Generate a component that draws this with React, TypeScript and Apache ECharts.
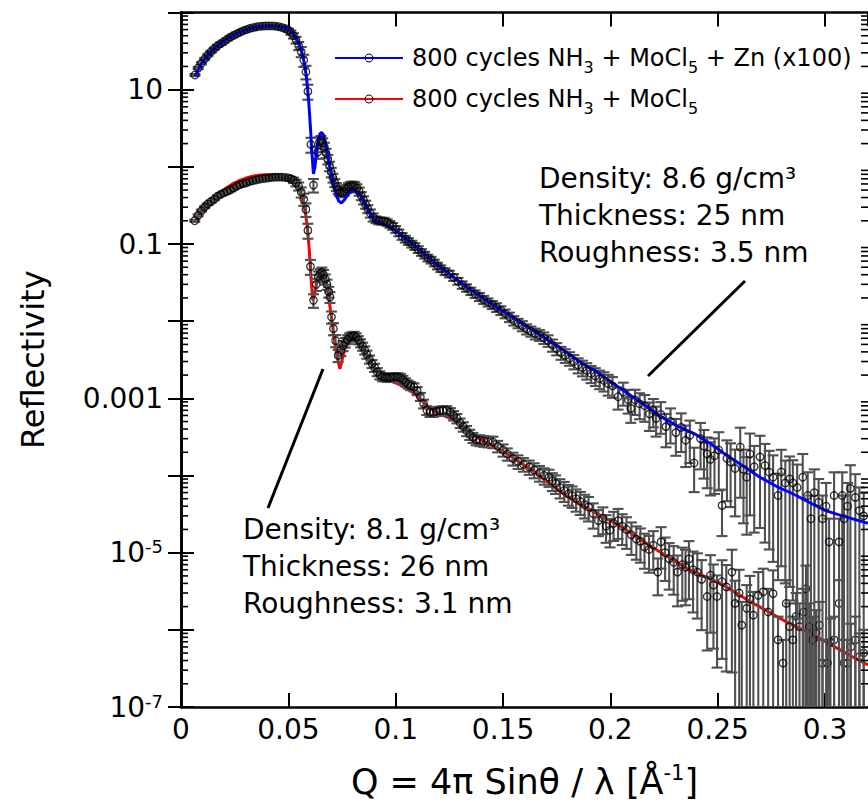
import React, { useEffect, useRef } from "react";
import * as echarts from "echarts";

// ---------- data ----------
// measured points of the Zn sample (already x100): [Q, R, relative error]
const topMeasured: [number, number, number][] = [
  [0.0065, 15.5, 0.03], [0.008, 19.0, 0.03], [0.0095, 22.0, 0.03], [0.011, 25.0, 0.03], [0.0125, 28.0, 0.03],
  [0.014, 31.0, 0.03], [0.0155, 34.0, 0.03], [0.017, 37.0, 0.03], [0.0185, 39.5, 0.03], [0.02, 42.0, 0.03],
  [0.0215, 45.0, 0.03], [0.023, 48.0, 0.03], [0.0245, 50.5, 0.03], [0.026, 53.0, 0.03], [0.0275, 55.5, 0.03],
  [0.029, 58.0, 0.03], [0.0305, 60.0, 0.03], [0.032, 62.0, 0.03], [0.0335, 63.5, 0.03], [0.035, 65.0, 0.03],
  [0.0365, 66.0, 0.03], [0.038, 66.5, 0.03], [0.0395, 67.0, 0.03], [0.041, 67.0, 0.03], [0.0425, 67.0, 0.03],
  [0.044, 66.5, 0.03], [0.0455, 65.5, 0.03], [0.047, 64.0, 0.03], [0.0485, 62.0, 0.04], [0.05, 59.0, 0.05],
  [0.0512, 55.0, 0.06], [0.0524, 50.0, 0.08], [0.0536, 44.0, 0.1], [0.0548, 37.0, 0.12], [0.056, 31.0, 0.15],
  [0.0572, 24.0, 0.18], [0.0582, 17.0, 0.2], [0.0591, 9.5, 0.22], [0.0605, 1.95, 0.22], [0.0617, 0.58, 0.2],
  [0.0637, 1.55, 0.18], [0.0645, 2.1, 0.15], [0.0652, 2.2, 0.14], [0.066, 2.05, 0.14], [0.0668, 1.8, 0.14],
  [0.0676, 1.5, 0.14], [0.0684, 1.25, 0.14], [0.0692, 1.02, 0.14], [0.07, 0.85, 0.14], [0.0708, 0.72, 0.13],
  [0.0716, 0.62, 0.12], [0.0724, 0.55, 0.12], [0.0732, 0.5, 0.12], [0.074, 0.47, 0.12], [0.075, 0.46, 0.12],
  [0.076, 0.48, 0.12], [0.077, 0.52, 0.12], [0.078, 0.55, 0.12], [0.079, 0.57, 0.12], [0.08, 0.575, 0.12],
  [0.081, 0.565, 0.12], [0.082, 0.53, 0.12], [0.083, 0.48, 0.12], [0.084, 0.42, 0.12], [0.085, 0.37, 0.12],
  [0.086, 0.325, 0.12], [0.087, 0.285, 0.12], [0.0882, 0.25, 0.12], [0.0895, 0.222, 0.12], [0.0908, 0.207, 0.1],
  [0.0921, 0.2, 0.1], [0.0934, 0.199, 0.1], [0.0947, 0.198, 0.1], [0.096, 0.19, 0.1], [0.0973, 0.18, 0.1],
  [0.0986, 0.17, 0.1], [0.1, 0.155, 0.1], [0.1015, 0.14, 0.1], [0.103, 0.126, 0.1], [0.1045, 0.116, 0.1],
  [0.106, 0.108, 0.1], [0.1075, 0.1, 0.1], [0.109, 0.093, 0.1], [0.1105, 0.085, 0.1], [0.112, 0.078, 0.1],
  [0.1135, 0.072, 0.1], [0.115, 0.066, 0.1], [0.1165, 0.062, 0.1], [0.118, 0.057, 0.1], [0.1195, 0.052, 0.1],
  [0.121, 0.048, 0.1], [0.123, 0.044, 0.1], [0.125, 0.041, 0.1], [0.127, 0.037, 0.1], [0.129, 0.033, 0.1],
  [0.131, 0.0295, 0.11], [0.133, 0.027, 0.11], [0.135, 0.0245, 0.11], [0.137, 0.0225, 0.11], [0.139, 0.0207, 0.12],
  [0.141, 0.019, 0.12], [0.143, 0.0176, 0.12], [0.145, 0.0163, 0.12], [0.147, 0.0151, 0.13], [0.149, 0.0138, 0.13],
  [0.151, 0.0125, 0.13], [0.153, 0.0113, 0.14], [0.155, 0.0102, 0.14], [0.157, 0.0094, 0.14], [0.159, 0.0087, 0.15],
  [0.161, 0.0079, 0.15], [0.163, 0.0074, 0.15], [0.165, 0.0069, 0.16], [0.167, 0.0066, 0.16], [0.169, 0.0061, 0.17],
  [0.171, 0.0056, 0.17], [0.173, 0.0049, 0.18], [0.175, 0.0044, 0.18], [0.177, 0.0039, 0.19], [0.179, 0.0036, 0.2],
  [0.181, 0.0033, 0.2], [0.183, 0.003, 0.21], [0.185, 0.0027, 0.22], [0.187, 0.0025, 0.23], [0.189, 0.0023, 0.24],
  [0.191, 0.0021, 0.25], [0.193, 0.00195, 0.26], [0.195, 0.0018, 0.27], [0.197, 0.0017, 0.28], [0.199, 0.00155, 0.3],
  [0.201, 0.00145, 0.3], [0.2036, 0.00105, 0.32], [0.206, 0.0012, 0.33], [0.2083, 0.00096, 0.34], [0.2095, 0.00074, 0.35],
  [0.2115, 0.00095, 0.36], [0.2136, 0.00085, 0.37], [0.216, 0.0008, 0.38], [0.2182, 0.00063, 0.4], [0.22, 0.0007, 0.4],
  [0.2213, 0.00055, 0.42], [0.2235, 0.00062, 0.44], [0.2259, 0.00043, 0.46], [0.228, 0.0005, 0.48], [0.2305, 0.00036, 0.5],
  [0.233, 0.00042, 0.52], [0.2351, 0.000286, 0.55], [0.237, 0.00033, 0.56], [0.239, 0.000145, 0.58], [0.242, 0.0003, 0.6],
  [0.2436, 0.00024, 0.62], [0.2451, 0.00019, 0.64], [0.2466, 0.000162, 0.66], [0.2485, 0.00018, 0.68], [0.2505, 0.000214, 0.7],
  [0.252, 0.000041, 0.6], [0.2543, 0.000166, 0.72], [0.256, 0.00015, 0.74], [0.2581, 0.000123, 0.76], [0.2605, 0.000234, 0.78],
  [0.262, 0.00012, 0.8], [0.2635, 0.000095, 0.82], [0.265, 0.00019, 0.84], [0.267, 0.00013, 0.86], [0.2697, 0.000174, 0.88],
  [0.272, 0.000135, 0.9], [0.274, 0.00011, 0.9], [0.2758, 0.000095, 0.92], [0.2781, 0.000055, 0.92], [0.2796, 0.000111, 0.94],
  [0.2815, 0.00008, 0.95], [0.2835, 0.00009, 0.96], [0.285, 0.00008, 0.97], [0.287, 0.00007, 0.98], [0.2896, 0.000095, 1.0],
  [0.2919, 0.000055, 1.0], [0.2934, 0.0000275, 1.0], [0.295, 0.00006, 1.0], [0.297, 0.000045, 1.0], [0.2988, 0.0000275, 1.0],
  [0.3005, 0.00004, 1.0], [0.3019, 0.0000138, 1.0], [0.3042, 0.000055, 1.0], [0.3065, 0.0000138, 1.0], [0.308, 0.000055, 1.0],
  [0.3088, 0.0000275, 1.0], [0.3105, 0.00004, 1.0], [0.3118, 0.000068, 1.0], [0.3141, 0.000052, 1.0], [0.316, 0.000035, 1.0],
  [0.318, 0.00003, 1.0],
];

// fitted curve of the Zn sample (x100): [Q, R]
const topFit: [number, number][] = [
  [0.0065, 15.0], [0.009, 20.5], [0.012, 27.0], [0.015, 33.0], [0.018, 39.0], [0.021, 44.5], [0.024, 50.0],
  [0.027, 55.0], [0.03, 59.5], [0.033, 63.0], [0.036, 65.5], [0.039, 67.0], [0.042, 67.5], [0.045, 66.5],
  [0.048, 63.5], [0.05, 60.0], [0.052, 54.0], [0.054, 45.0], [0.056, 33.0], [0.0575, 22.0], [0.0585, 14.0],
  [0.0595, 7.0], [0.0603, 3.2], [0.061, 1.5], [0.0617, 0.81], [0.0624, 1.0], [0.0632, 1.7], [0.064, 2.3],
  [0.0648, 2.7], [0.0655, 2.8], [0.0663, 2.6], [0.0672, 2.1], [0.0682, 1.5], [0.0692, 1.05], [0.0702, 0.75],
  [0.0712, 0.56], [0.0722, 0.44], [0.0735, 0.36], [0.0747, 0.34], [0.076, 0.37], [0.0775, 0.43], [0.079, 0.475],
  [0.0806, 0.49], [0.0822, 0.47], [0.084, 0.41], [0.0858, 0.33], [0.0875, 0.265], [0.089, 0.225], [0.0905, 0.205],
  [0.0925, 0.19], [0.095, 0.178], [0.0975, 0.165], [0.1, 0.148], [0.103, 0.128], [0.106, 0.11], [0.109, 0.095],
  [0.112, 0.08], [0.115, 0.068], [0.118, 0.058], [0.121, 0.05], [0.125, 0.041], [0.13, 0.032], [0.135, 0.0255],
  [0.14, 0.0205], [0.145, 0.0165], [0.15, 0.0135], [0.155, 0.011], [0.16, 0.0089], [0.165, 0.0073], [0.17, 0.0059],
  [0.175, 0.0048], [0.18, 0.0039], [0.185, 0.0031], [0.19, 0.0025], [0.1929, 0.0023], [0.2, 0.00165], [0.2083, 0.00115],
  [0.216, 0.00082], [0.2236, 0.00058], [0.231, 0.00044], [0.239, 0.00035], [0.2465, 0.00026], [0.2543, 0.000182],
  [0.262, 0.000132], [0.2697, 0.000095], [0.2775, 0.000072], [0.285, 0.000058], [0.2925, 0.000045], [0.3003, 0.000035],
  [0.308, 0.00003], [0.3157, 0.000026], [0.32, 0.000024],
];

// measured points of the sample without Zn: [Q, R, relative error]
const bottomMeasured: [number, number, number][] = [
  [0.0064, 0.2, 0.03], [0.008, 0.235, 0.03], [0.0095, 0.27, 0.03], [0.011, 0.3, 0.03], [0.0125, 0.33, 0.03],
  [0.014, 0.355, 0.03], [0.0155, 0.38, 0.03], [0.017, 0.415, 0.03], [0.0185, 0.44, 0.03], [0.02, 0.46, 0.03],
  [0.0215, 0.48, 0.03], [0.023, 0.5, 0.03], [0.0245, 0.53, 0.03], [0.026, 0.56, 0.03], [0.0275, 0.585, 0.03],
  [0.029, 0.605, 0.03], [0.0305, 0.62, 0.03], [0.032, 0.645, 0.03], [0.0335, 0.66, 0.03], [0.035, 0.675, 0.03],
  [0.0365, 0.69, 0.03], [0.038, 0.7, 0.03], [0.0395, 0.71, 0.03], [0.041, 0.72, 0.03], [0.0425, 0.73, 0.03],
  [0.044, 0.735, 0.03], [0.0455, 0.735, 0.03], [0.047, 0.735, 0.03], [0.0485, 0.73, 0.04], [0.05, 0.72, 0.05],
  [0.0512, 0.7, 0.06], [0.0524, 0.67, 0.08], [0.0536, 0.62, 0.1], [0.0548, 0.56, 0.12], [0.056, 0.47, 0.15],
  [0.0572, 0.38, 0.18], [0.0582, 0.28, 0.2], [0.0591, 0.15, 0.22], [0.0603, 0.051, 0.22], [0.0617, 0.0186, 0.2],
  [0.063, 0.03, 0.18], [0.064, 0.038, 0.16], [0.0648, 0.041, 0.15], [0.0656, 0.043, 0.15], [0.0664, 0.04, 0.15],
  [0.0672, 0.035, 0.15], [0.068, 0.03, 0.15], [0.0688, 0.024, 0.16], [0.0694, 0.0205, 0.16], [0.0701, 0.0113, 0.18],
  [0.071, 0.008, 0.18], [0.072, 0.0056, 0.18], [0.0732, 0.0036, 0.18], [0.0745, 0.0042, 0.16], [0.0755, 0.0048, 0.15],
  [0.0765, 0.0053, 0.14], [0.0775, 0.0058, 0.13], [0.0785, 0.0062, 0.12], [0.0795, 0.0064, 0.12], [0.0806, 0.0065, 0.12],
  [0.0816, 0.0062, 0.12], [0.0826, 0.0057, 0.12], [0.0836, 0.0052, 0.12], [0.0846, 0.0047, 0.12], [0.0856, 0.0042, 0.12],
  [0.0866, 0.0037, 0.12], [0.0878, 0.0032, 0.12], [0.089, 0.0028, 0.12], [0.0902, 0.0025, 0.12], [0.0914, 0.0022, 0.12],
  [0.0926, 0.002, 0.12], [0.0938, 0.0019, 0.12], [0.095, 0.00188, 0.12], [0.0962, 0.00185, 0.12], [0.0974, 0.00186, 0.12],
  [0.0986, 0.00188, 0.12], [0.0998, 0.0019, 0.12], [0.101, 0.00189, 0.12], [0.1022, 0.00185, 0.12], [0.1034, 0.00175, 0.12],
  [0.1046, 0.00162, 0.12], [0.1058, 0.00152, 0.12], [0.107, 0.00145, 0.12], [0.1085, 0.0014, 0.12], [0.11, 0.00125, 0.12],
  [0.1115, 0.00105, 0.12], [0.113, 0.00085, 0.13], [0.1145, 0.0007, 0.13], [0.116, 0.00066, 0.13], [0.1175, 0.00066, 0.13],
  [0.119, 0.00068, 0.13], [0.1205, 0.00069, 0.13], [0.122, 0.0007, 0.13], [0.1238, 0.0007, 0.13], [0.1255, 0.00066, 0.13],
  [0.127, 0.0006, 0.14], [0.1285, 0.00055, 0.14], [0.13, 0.00048, 0.14], [0.1315, 0.00043, 0.14], [0.133, 0.00038, 0.15],
  [0.1345, 0.00034, 0.15], [0.136, 0.00031, 0.15], [0.1375, 0.00029, 0.15], [0.1392, 0.000286, 0.16], [0.141, 0.00028, 0.16],
  [0.143, 0.000275, 0.16], [0.1453, 0.000272, 0.17], [0.1475, 0.00024, 0.17], [0.15, 0.000214, 0.18], [0.152, 0.00019, 0.18],
  [0.1546, 0.000166, 0.19], [0.157, 0.000152, 0.2], [0.1595, 0.00014, 0.2], [0.1622, 0.000129, 0.21], [0.1645, 0.000118, 0.22],
  [0.167, 0.000108, 0.23], [0.1692, 0.0001, 0.24], [0.1714, 0.000095, 0.25], [0.173, 0.000085, 0.26], [0.1745, 0.000079, 0.27],
  [0.1765, 0.00007, 0.28], [0.1785, 0.000064, 0.29], [0.1805, 0.000058, 0.3], [0.1822, 0.000055, 0.31], [0.184, 0.00005, 0.32],
  [0.186, 0.000046, 0.33], [0.188, 0.000042, 0.34], [0.1898, 0.000039, 0.35], [0.192, 0.000032, 0.36], [0.1944, 0.000026, 0.37],
  [0.1965, 0.000028, 0.38], [0.198, 0.000022, 0.39], [0.1998, 0.0000195, 0.4], [0.2015, 0.000024, 0.41], [0.2036, 0.000026, 0.42],
  [0.2055, 0.000022, 0.43], [0.2075, 0.00002, 0.44], [0.2098, 0.000017, 0.45], [0.2121, 0.000015, 0.46], [0.214, 0.000014, 0.47],
  [0.2159, 0.0000119, 0.48], [0.218, 0.000011, 0.5], [0.22, 0.0000125, 0.52], [0.2221, 0.0000056, 0.5], [0.2236, 0.0000138, 0.55],
  [0.2255, 0.00001, 0.57], [0.2274, 0.0000083, 0.6], [0.2295, 0.0000075, 0.62], [0.2313, 0.0000056, 0.64], [0.2335, 0.000007, 0.66],
  [0.235, 0.0000065, 0.68], [0.2366, 0.0000083, 0.7], [0.2385, 0.000006, 0.72], [0.2405, 0.0000056, 0.75], [0.2425, 0.0000045, 0.78],
  [0.2451, 0.0000027, 0.8], [0.2466, 0.0000051, 0.82], [0.248, 0.0000038, 0.85], [0.2497, 0.0000027, 0.88], [0.252, 0.0000042, 0.9],
  [0.254, 0.0000036, 0.92], [0.2566, 0.0000056, 0.95], [0.2581, 0.0000022, 0.97], [0.26, 0.000003, 1.0], [0.2612, 0.00000115, 1.0],
  [0.2635, 0.0000019, 1.0], [0.265, 0.0000025, 1.0], [0.2666, 0.00000155, 1.0], [0.2689, 0.0000028, 1.0], [0.2712, 0.0000031, 1.0],
  [0.2735, 0.0000017, 1.0], [0.2758, 0.00000295, 1.0], [0.2781, 0.00000074, 1.0], [0.2804, 0.00000037, 1.0], [0.2819, 0.0000022, 1.0],
  [0.2835, 0.0000011, 1.0], [0.285, 0.00000074, 1.0], [0.2865, 0.0000015, 1.0], [0.2881, 0.0000011, 1.0], [0.29, 0.0000017, 1.0],
  [0.2911, 0.0000034, 1.0], [0.2927, 0.0000011, 1.0], [0.2942, 0.00000074, 1.0], [0.2958, 0.0000009, 1.0], [0.2973, 0.00000115, 1.0],
  [0.2988, 0.00000037, 1.0], [0.3011, 0.00000037, 1.0], [0.3025, 0.0000007, 1.0], [0.3042, 0.00000074, 1.0], [0.3065, 0.0000022, 1.0],
  [0.3088, 0.00000037, 1.0], [0.3103, 0.00000037, 1.0], [0.312, 0.0000006, 1.0], [0.3141, 0.00000074, 1.0], [0.316, 0.00000045, 1.0],
  [0.318, 0.0000005, 1.0],
];

// fitted curve of the sample without Zn: [Q, R]
const bottomFit: [number, number][] = [
  [0.0064, 0.19], [0.009, 0.25], [0.012, 0.32], [0.015, 0.39], [0.018, 0.46], [0.021, 0.53], [0.024, 0.6],
  [0.027, 0.66], [0.03, 0.71], [0.033, 0.75], [0.036, 0.78], [0.039, 0.79], [0.042, 0.79], [0.045, 0.775],
  [0.048, 0.745], [0.05, 0.72], [0.052, 0.67], [0.054, 0.59], [0.0555, 0.48], [0.057, 0.34], [0.058, 0.25],
  [0.059, 0.15], [0.0598, 0.08], [0.0606, 0.035], [0.0614, 0.0186], [0.0622, 0.022], [0.0632, 0.032], [0.0642, 0.04],
  [0.0652, 0.044], [0.0662, 0.042], [0.0672, 0.035], [0.0682, 0.026], [0.0692, 0.017], [0.0702, 0.0105], [0.0712, 0.0065],
  [0.0722, 0.0042], [0.0732, 0.003], [0.074, 0.0024], [0.075, 0.0031], [0.0762, 0.0043], [0.0775, 0.0053], [0.079, 0.006],
  [0.0805, 0.0062], [0.082, 0.0058], [0.0835, 0.0051], [0.085, 0.0043], [0.087, 0.0034], [0.089, 0.0027], [0.091, 0.0022],
  [0.093, 0.00193], [0.095, 0.00178], [0.0975, 0.00168], [0.1, 0.00158], [0.103, 0.00145], [0.106, 0.0013], [0.109, 0.00113],
  [0.112, 0.00095], [0.115, 0.00079], [0.118, 0.00069], [0.121, 0.00062], [0.124, 0.00057], [0.127, 0.00052], [0.13, 0.00046],
  [0.134, 0.00038], [0.138, 0.00031], [0.142, 0.00027], [0.146, 0.00024], [0.15, 0.000205], [0.155, 0.000168], [0.16, 0.000135],
  [0.165, 0.00011], [0.17, 0.000085], [0.18, 0.000053], [0.1898, 0.000037], [0.2052, 0.0000215], [0.2205, 0.0000113],
  [0.2359, 0.0000062], [0.2512, 0.000004], [0.2666, 0.0000022], [0.282, 0.00000127], [0.2973, 0.00000078], [0.3126, 0.00000045],
  [0.32, 0.00000035],
];

const seriesNames = ["800 cycles NH3 + MoCl5 + Zn (x100)", "800 cycles NH3 + MoCl5"];
const legendRich: Record<string, string> = {
  [seriesNames[0]]: "{t|800 cycles NH}{s|3}{t| + MoCl}{s|5}{t| + Zn (x100)}",
  [seriesNames[1]]: "{t|800 cycles NH}{s|3}{t| + MoCl}{s|5}",
};
// y tick labels by decade exponent (only every second decade is labelled)
const yTickText: Record<string, string> = {
  "1": "10",
  "-1": "0.1",
  "-3": "0.001",
  "-5": "{n|10}{s|-5}",
  "-7": "{n|10}{s|-7}",
};
const xAxisTitle = "{a|Q = 4π Sinθ / λ [Å}{s|-1}{a|]}";
const yAxisTitle = "Reflectivity";
const annotationZn = "Density: 8.6 g/cm³\nThickness: 25 nm\nRoughness: 3.5 nm";
const annotationNoZn = "Density: 8.1 g/cm³\nThickness: 26 nm\nRoughness: 3.1 nm";

const Y_MIN = 1e-7;
const Y_MAX = 100;
const X_MIN = 0;
const X_MAX = 0.32;

function errorRows(rows: [number, number, number][]) {
  return rows.map(([q, r, e]) => {
    const hi = r + r * e;
    const rawLo = r - r * e;
    const clamped = rawLo <= Y_MIN ? 1 : 0;
    const lo = clamped ? Y_MIN : rawLo;
    return [q, r, lo, hi, clamped];
  });
}

function minorTickRows() {
  const rows: number[][] = [];
  for (let d = -7; d < 2; d++) {
    for (let m = 2; m <= 9; m++) rows.push([X_MIN, m * Math.pow(10, d)]);
  }
  return rows;
}

const errColor = "#505050";

function errRender(params: any, api: any) {
  const q = api.value(0);
  const lo = api.value(2);
  const hi = api.value(3);
  const clamped = api.value(4);
  const pTop = api.coord([q, hi]);
  const pBot = api.coord([q, lo]);
  const half = 5.5;
  const style = { stroke: errColor, lineWidth: 2.1 };
  const children: any[] = [
    { type: "line", shape: { x1: pTop[0], y1: pTop[1], x2: pBot[0], y2: pBot[1] }, style },
    { type: "line", shape: { x1: pTop[0] - half, y1: pTop[1], x2: pTop[0] + half, y2: pTop[1] }, style },
  ];
  if (!clamped) {
    children.push({ type: "line", shape: { x1: pBot[0] - half, y1: pBot[1], x2: pBot[0] + half, y2: pBot[1] }, style });
  }
  return { type: "group", children };
}

function minorRender(params: any, api: any) {
  const v = api.value(1);
  const pl = api.coord([X_MIN, v]);
  const pr = api.coord([X_MAX, v]);
  const style = { stroke: "#000", lineWidth: 1.6 };
  return {
    type: "group",
    children: [
      { type: "line", shape: { x1: pl[0], y1: pl[1], x2: pl[0] + 7, y2: pl[1] }, style },
      { type: "line", shape: { x1: pr[0] - 7, y1: pr[1], x2: pr[0], y2: pr[1] }, style },
    ],
  };
}

export default function App() {
  const ref = useRef<HTMLDivElement>(null);
  useEffect(() => {
    if (!ref.current) return;
    const chart = echarts.init(ref.current, undefined, { renderer: "svg" });
    const axisLine = { show: true, lineStyle: { color: "#000", width: 2.6 } };
    const font = "DejaVu Sans";
    const pointStyle = { color: "rgba(0,0,0,0)", borderColor: "#000", borderWidth: 1.3 };
    const option: any = {
      animation: false,
      backgroundColor: "#fff",
      grid: { left: 181, top: 12.5, width: 695, height: 694.5, containLabel: false },
      xAxis: [
        {
          type: "value",
          min: X_MIN,
          max: X_MAX,
          interval: 0.05,
          position: "bottom",
          axisLine,
          axisTick: { show: true, inside: true, length: 14, lineStyle: { color: "#000", width: 2 } },
          splitLine: { show: false },
          axisLabel: {
            show: true,
            margin: 8,
            fontSize: 28,
            fontFamily: font,
            color: "#000",
            showMaxLabel: false,
            formatter: (v: number) => (v === 0 ? "0" : String(parseFloat(v.toFixed(3)))),
          },
          name: xAxisTitle,
          nameLocation: "middle",
          nameGap: 55,
          nameTextStyle: {
            color: "#000",
            rich: {
              a: { fontSize: 35, fontFamily: font, color: "#000", lineHeight: 40 },
              s: { fontSize: 21, fontFamily: font, color: "#000", lineHeight: 40, verticalAlign: "top", padding: [0, 0, 14, 0] },
            },
          },
        },
        {
          type: "value",
          min: X_MIN,
          max: X_MAX,
          interval: 0.05,
          position: "top",
          axisLine,
          axisTick: { show: true, inside: true, length: 14, lineStyle: { color: "#000", width: 2 } },
          splitLine: { show: false },
          axisLabel: { show: false },
        },
      ],
      yAxis: [
        {
          type: "log",
          logBase: 10,
          min: Y_MIN,
          max: Y_MAX,
          interval: 1,
          position: "left",
          axisLine,
          axisTick: { show: true, inside: true, length: 13, lineStyle: { color: "#000", width: 2 } },
          splitLine: { show: false },
          minorTick: { show: false },
          axisLabel: {
            show: true,
            margin: 18,
            color: "#000",
            fontSize: 28,
            fontFamily: font,
            formatter: (v: number) => {
              const e = Math.round(Math.log10(v));
              return yTickText[String(e)] ?? "";
            },
            rich: {
              n: { fontSize: 28, fontFamily: font, color: "#000", lineHeight: 30 },
              s: { fontSize: 18, fontFamily: font, color: "#000", lineHeight: 30, verticalAlign: "top", padding: [0, 0, 12, 0] },
            },
          },
          name: yAxisTitle,
          nameLocation: "middle",
          nameGap: 132,
          nameRotate: 90,
          nameTextStyle: { fontSize: 32, fontFamily: font, color: "#000" },
        },
        {
          type: "log",
          logBase: 10,
          min: Y_MIN,
          max: Y_MAX,
          interval: 1,
          position: "right",
          axisLine,
          axisTick: { show: true, inside: true, length: 13, lineStyle: { color: "#000", width: 2 } },
          splitLine: { show: false },
          axisLabel: { show: false },
        },
      ],
      legend: {
        data: seriesNames,
        orient: "vertical",
        left: 334,
        top: 46,
        padding: 0,
        itemGap: 12,
        itemWidth: 68,
        itemHeight: 10,
        itemStyle: { color: "rgba(0,0,0,0)", borderColor: "#000", borderWidth: 1 },
        formatter: (name: string) => legendRich[name] ?? name,
        textStyle: {
          color: "#000",
          padding: [0, 0, 0, 4],
          rich: {
            t: { fontSize: 24, fontFamily: font, color: "#000", lineHeight: 30 },
            s: { fontSize: 16, fontFamily: font, color: "#000", lineHeight: 30, verticalAlign: "bottom", padding: [0, 0, -2, 0] },
          },
        },
      },
      graphic: [
        {
          type: "text",
          x: 539,
          y: 160,
          z: 100,
          style: { text: annotationZn, fontSize: 28, fontFamily: font, fill: "#000", lineHeight: 37 },
        },
        {
          type: "text",
          x: 243,
          y: 511,
          z: 100,
          style: { text: annotationNoZn, fontSize: 28, fontFamily: font, fill: "#000", lineHeight: 37 },
        },
        { type: "line", z: 100, shape: { x1: 745, y1: 281, x2: 648, y2: 376 }, style: { stroke: "#000", lineWidth: 3 } },
        { type: "line", z: 100, shape: { x1: 323, y1: 369, x2: 268, y2: 508 }, style: { stroke: "#000", lineWidth: 3 } },
      ],
      series: [
        {
          name: seriesNames[1],
          type: "line",
          data: bottomFit,
          symbol: "circle",
          showSymbol: false,
          color: "#ff0000",
          lineStyle: { color: "#ff0000", width: 3 },
          z: 2,
          silent: true,
        },
        {
          name: "err-bottom",
          type: "custom",
          data: errorRows(bottomMeasured),
          renderItem: errRender,
          z: 3,
          silent: true,
        },
        {
          name: "points-bottom",
          type: "scatter",
          data: bottomMeasured.map(([q, r]) => [q, r]),
          symbol: "circle",
          symbolSize: 7.5,
          itemStyle: pointStyle,
          z: 4,
          silent: true,
        },
        {
          name: "err-top",
          type: "custom",
          data: errorRows(topMeasured),
          renderItem: errRender,
          z: 5,
          silent: true,
        },
        {
          name: seriesNames[0],
          type: "line",
          data: topFit,
          symbol: "circle",
          showSymbol: false,
          color: "#0000ff",
          lineStyle: { color: "#0000ff", width: 3 },
          z: 6,
          silent: true,
        },
        {
          name: "points-top",
          type: "scatter",
          data: topMeasured.map(([q, r]) => [q, r]),
          symbol: "circle",
          symbolSize: 7.5,
          itemStyle: pointStyle,
          z: 7,
          silent: true,
        },
        {
          name: "minor-ticks",
          type: "custom",
          data: minorTickRows(),
          renderItem: minorRender,
          z: 10,
          silent: true,
        },
      ],
    };
    chart.setOption(option);
    return () => chart.dispose();
  }, []);
  return <div ref={ref} style={{ position: "fixed", left: 0, top: 0, width: 868, height: 808 }} />;
}
